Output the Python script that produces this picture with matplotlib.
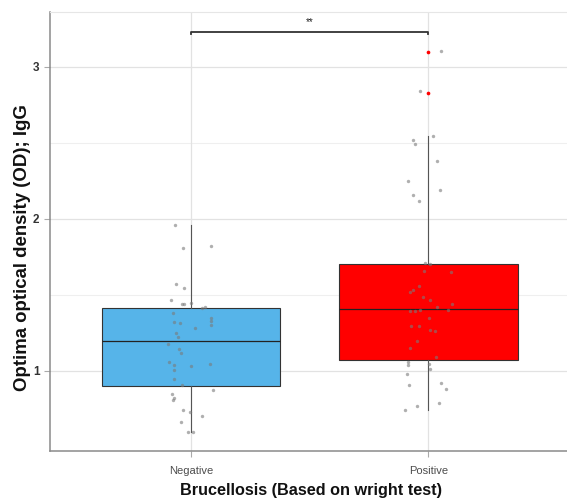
import matplotlib
matplotlib.use("Agg")
import matplotlib.pyplot as plt
import numpy as np

FAMILY = ["Liberation Sans", "DejaVu Sans"]

groups = ["Negative", "Positive"]
box_colors = ["#56B4E9", "#FF0000"]

# box statistics
q1 = [0.897, 1.07]
median = [1.195, 1.404]
q3 = [1.41, 1.704]
whisker_low = [0.599, 0.741]
whisker_high = [1.96, 2.542]
outliers_pos = [3.10, 2.83]

# jittered observations: value and horizontal jitter (category units)
neg_values = [1.96, 1.82, 1.805, 1.570, 1.542, 1.465, 1.439, 1.439, 1.443, 1.41,
              1.42, 1.38, 1.349, 1.318, 1.312, 1.325, 1.30, 1.279, 1.25, 1.22,
              1.174, 1.145, 1.116, 1.057, 1.037, 1.029, 1.042, 1.003, 0.945, 0.906,
              0.875, 0.847, 0.818, 0.809, 0.741, 0.726, 0.702, 0.66, 0.599, 0.599]
neg_jitter = [-0.067, 0.085, -0.035, -0.063, -0.027, -0.084, -0.037, -0.028, -0.001, 0.048,
              0.059, -0.077, 0.083, -0.069, -0.046, 0.083, 0.083, 0.018, -0.062, -0.056,
              -0.097, -0.052, -0.043, -0.093, -0.069, -0.001, 0.079, -0.070, -0.070, -0.039,
              0.093, -0.079, -0.072, -0.076, -0.035, -0.004, 0.046, -0.042, -0.013, 0.007]
pos_values = [3.105, 2.838, 2.542, 2.52, 2.493, 2.378, 2.25, 2.19, 2.154, 2.118,
              1.711, 1.702, 1.658, 1.647, 1.557, 1.531, 1.520, 1.487, 1.465, 1.439,
              1.417, 1.393, 1.395, 1.399, 1.399, 1.345, 1.294, 1.294, 1.268, 1.261,
              1.197, 1.147, 1.088, 1.059, 1.038, 1.042, 1.013, 0.978, 0.906, 0.917,
              0.880, 0.786, 0.768, 0.741]
pos_jitter = [0.052, -0.034, 0.021, -0.065, -0.058, 0.036, -0.084, 0.049, -0.063, -0.041,
              -0.016, 0.005, -0.019, 0.093, -0.040, -0.067, -0.079, -0.025, 0.005, 0.097,
              0.034, -0.079, -0.058, -0.034, 0.082, 0.001, -0.074, -0.040, 0.005, 0.027,
              -0.048, -0.079, 0.031, -0.084, -0.084, 0.001, 0.007, -0.090, -0.082, 0.052,
              0.073, 0.045, -0.049, -0.098]

y_ticks = [1, 2, 3]
sig_label = "**"
sig_level = 3.226

fig = plt.figure(figsize=(5.67, 4.99), dpi=100)
ax = fig.add_axes([50 / 567, 48 / 499, 521 / 567, 439 / 499])
ax.set_xlim(-0.593, 1.60)
ax.set_ylim(0.472, 3.36)

# grid
for y in [1.5, 2.5]:
    ax.axhline(y, color="#EFEFEF", lw=0.8, zorder=0)
for y in y_ticks:
    ax.axhline(y, color="#E2E2E2", lw=0.9, zorder=0)
for x in range(len(groups)):
    ax.axvline(x, color="#E2E2E2", lw=0.9, zorder=0)

stats = []
for i, g in enumerate(groups):
    stats.append(dict(med=median[i], q1=q1[i], q3=q3[i], whislo=whisker_low[i],
                      whishi=whisker_high[i], fliers=[], label=g))
bp = ax.bxp(stats, positions=range(len(groups)), widths=0.75, patch_artist=True,
            showcaps=False, showfliers=False,
            boxprops=dict(edgecolor="#333333", lw=0.8),
            medianprops=dict(color="#222222", lw=0.9),
            whiskerprops=dict(color="#555555", lw=0.8), zorder=2)
for patch, c in zip(bp["boxes"], box_colors):
    patch.set_facecolor(c)

ax.scatter(np.full(len(outliers_pos), 1), outliers_pos, s=7, color="#FF0000", zorder=3, lw=0)

ax.scatter(0 + np.array(neg_jitter), neg_values, s=6, color="#7A7A7A", alpha=0.6, lw=0, zorder=4)
ax.scatter(1 + np.array(pos_jitter), pos_values, s=6, color="#7A7A7A", alpha=0.6, lw=0, zorder=4)

# significance bracket
ax.plot([0, 0, 1, 1], [sig_level - 0.012, sig_level, sig_level, sig_level - 0.012],
        color="#333333", lw=1.3, zorder=5)
ax.text(0.5, sig_level + 0.035, sig_label, ha="center", va="bottom", fontsize=7,
        family=FAMILY, color="#222222")

# axes styling
ax.spines["right"].set_visible(False)
ax.spines["top"].set_color("#E6E6E6")
ax.spines["left"].set_color("#8A8A8A")
ax.spines["bottom"].set_color("#8A8A8A")
ax.spines["left"].set_linewidth(1.1)
ax.spines["bottom"].set_linewidth(1.1)

ax.set_xticks(range(len(groups)))
ax.set_xticklabels(groups, family=FAMILY, fontsize=8, color="#4D4D4D")
ax.set_yticks(y_ticks)
ax.set_yticklabels([str(t) for t in y_ticks], family=FAMILY, fontsize=8.5,
                   fontweight="bold", color="#333333")
ax.tick_params(axis="both", length=4, color="#AAAAAA", width=0.8)
ax.tick_params(axis="x", pad=7)

ax.set_xlabel("Brucellosis (Based on wright test)", family=FAMILY, fontsize=11.7,
              fontweight="bold", color="#111111")
ax.xaxis.set_label_coords(0.5, -(483 - 451) / 439)
ax.set_ylabel("Optima optical density (OD); IgG", family=FAMILY, fontsize=13.4,
              fontweight="bold", color="#111111")
ax.yaxis.set_label_coords(-(50 - 31) / 521, (451 - 248) / 439)

fig.savefig("out.png", dpi=100)
